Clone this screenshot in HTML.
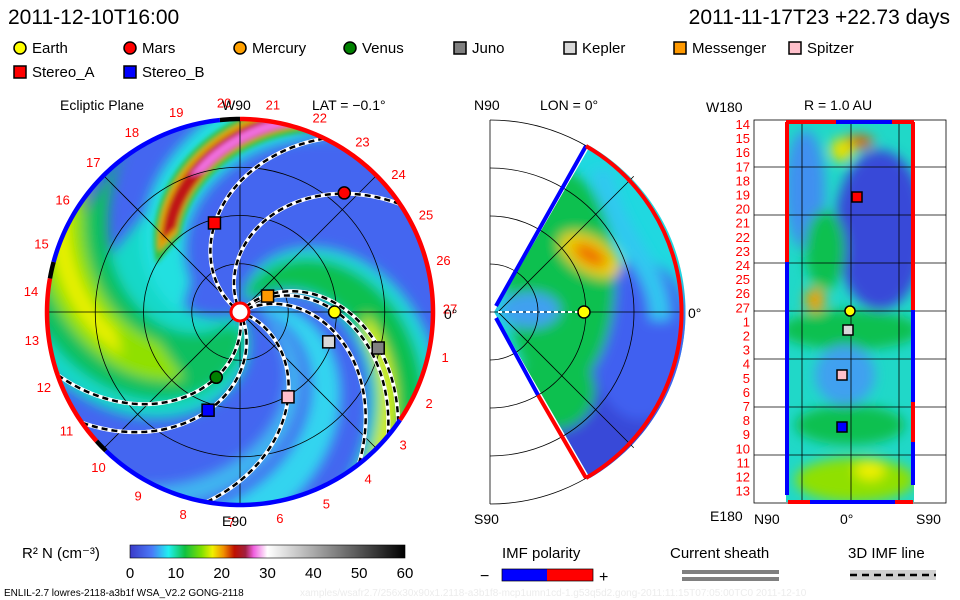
<!DOCTYPE html>
<html><head><meta charset="utf-8">
<style>
html,body{margin:0;padding:0;background:#fff;}
svg{display:block;font-family:"Liberation Sans",sans-serif;}
.t{fill:#000;}
</style></head>
<body>
<svg id="chart" width="960" height="600" viewBox="0 0 960 600" xmlns="http://www.w3.org/2000/svg">
<defs>
 <filter id="blur6" x="-20%" y="-20%" width="140%" height="140%"><feGaussianBlur stdDeviation="6"/></filter>
 <filter id="blur3" x="-20%" y="-20%" width="140%" height="140%"><feGaussianBlur stdDeviation="2.5"/></filter>
 <clipPath id="mainClip"><circle cx="240" cy="312" r="193"/></clipPath>
 <clipPath id="wedgeClip"><path d="M494,312 L590,146 A192,192 0 0 1 590,478 Z"/></clipPath>
 <clipPath id="rectClip"><rect x="786" y="122" width="128" height="380"/></clipPath>
 <linearGradient id="cbar" x1="0" x2="1" y1="0" y2="0">
  <stop offset="0" stop-color="#3a3ac8"/><stop offset="0.08" stop-color="#4a7af8"/>
  <stop offset="0.14" stop-color="#20f0f0"/><stop offset="0.2" stop-color="#10c040"/>
  <stop offset="0.26" stop-color="#80e000"/><stop offset="0.3" stop-color="#f0f000"/>
  <stop offset="0.34" stop-color="#f09000"/><stop offset="0.38" stop-color="#c01000"/>
  <stop offset="0.42" stop-color="#a02040"/><stop offset="0.45" stop-color="#f060e0"/>
  <stop offset="0.5" stop-color="#ffffff"/><stop offset="1" stop-color="#000000"/>
 </linearGradient>
</defs>

<text x="8" y="24" font-size="21" class="t">2011-12-10T16:00</text>
<text x="950" y="24" font-size="21" text-anchor="end" class="t">2011-11-17T23 +22.73 days</text>
<g id="legend"></g>

<text x="60" y="110" font-size="14" class="t">Ecliptic Plane</text>
<text x="312" y="110" font-size="14" class="t">LAT = −0.1°</text>
<text x="474" y="110" font-size="14" class="t">N90</text>
<text x="540" y="110" font-size="14" class="t">LON = 0°</text>
<text x="804" y="110" font-size="14" class="t">R = 1.0 AU</text>

<g id="main"></g>
<g id="mid"></g>
<g id="right"></g>

<g>
 <text x="22" y="558" font-size="15" class="t">R² N (cm⁻³)</text>
 <rect x="130" y="545" width="275" height="13" fill="url(#cbar)" stroke="#000" stroke-width="0.6"/>
 <g id="cbticks"></g>
</g>
<g>
 <text x="502" y="558" font-size="15" class="t">IMF polarity</text>
 <text x="480" y="581" font-size="16" class="t">−</text>
 <rect x="502" y="569" width="45" height="12" fill="#00f"/>
 <rect x="547" y="569" width="46" height="12" fill="#f00"/>
 <rect x="502" y="569" width="91" height="12" fill="none" stroke="#000" stroke-width="0.7"/>
 <text x="599" y="582" font-size="16" class="t">+</text>
</g>
<g>
 <text x="670" y="558" font-size="15" class="t">Current sheath</text>
 <rect x="682" y="570" width="97" height="4" fill="#808080"/>
 <rect x="682" y="577" width="97" height="4" fill="#808080"/>
</g>
<g>
 <text x="848" y="558" font-size="15" class="t">3D IMF line</text>
 <rect x="850" y="570" width="86" height="10" fill="#d0d0d0"/>
 <line x1="850" y1="575" x2="936" y2="575" stroke="#000" stroke-width="2.5" stroke-dasharray="7,5"/>
</g>
<text x="4" y="596" font-size="10" class="t">ENLIL-2.7 lowres-2118-a3b1f WSA_V2.2 GONG-2118</text>
<text x="300" y="596" font-size="10" fill="#ececec">xamples/wsafr2.7/256x30x90x1.2118-a3b1f8-mcp1umn1cd-1.g53q5d2.gong-2011:11:15T07:05:00TC0    2011-12-10</text>
</svg>
<script>
const NS="http://www.w3.org/2000/svg";
function mk(tag,attrs,parent){const e=document.createElementNS(NS,tag);for(const k in attrs)e.setAttribute(k,attrs[k]);if(parent)parent.appendChild(e);return e;}

// ---- data ----
const legendNames=["Earth","Mars","Mercury","Venus","Juno","Kepler","Messenger","Spitzer","Stereo_A","Stereo_B"];
const legendColors=["#ffff00","#ff0000","#ffa000","#008000","#808080","#d8d8d8","#ff9900","#ffc0cb","#ff0000","#0000ff"];
const legendShapes=["c","c","c","c","s","s","s","s","s","s"];
const bodyR=[0.98,1.64,0.31,0.72,1.48,0.97,0.33,1.01,0.96,1.07];   // AU
const bodyLon=[0,48.8,28,-110,-14.6,-18.6,30,-60.5,106,-108];      // deg
const cbTicks=[0,10,20,30,40,50,60];
const carrLabels=[1,2,3,4,5,6,7,8,9,10,11,12,13,14,15,16,17,18,19,20,21,22,23,24,25,26,27];
const rowLabels=[14,15,16,17,18,19,20,21,22,23,24,25,26,27,1,2,3,4,5,6,7,8,9,10,11,12,13];
const imfLinesTheta0=[144,114,40,45,28,-20,-81,-65];  // spiral footpoint longitudes (deg)

// ---- legend ----
const lg=document.getElementById('legend');
const lgX=[20,130,240,350,460,570,680,795,20,130];
const lgY=[48,48,48,48,48,48,48,48,72,72];
legendNames.forEach((n,i)=>{
 const g=mk('g',{},lg);
 
 
 if(legendShapes[i]==='c')mk('circle',{cx:lgX[i],cy:lgY[i],r:6,fill:legendColors[i],stroke:'#000','stroke-width':1.5},g);
 else mk('rect',{x:lgX[i]-6,y:lgY[i]-6,width:12,height:12,fill:legendColors[i],stroke:'#000','stroke-width':1.5},g);
 const t=mk('text',{x:lgX[i]+12,y:lgY[i]+5,'font-size':15},g);t.textContent=n;
});

// ---- main ecliptic panel ----
const CX=240,CY=312,S=96.5,K=52,KL=40;
const xy=(r,th)=>[CX+r*S*Math.cos(th*Math.PI/180),CY-r*S*Math.sin(th*Math.PI/180)];
const main=document.getElementById('main');
const field=mk('g',{'clip-path':'url(#mainClip)'},main);
mk('circle',{cx:CX,cy:CY,r:193,fill:'#4466f0'},field);
const fb=mk('g',{filter:'url(#blur6)'},field);
const fc=mk('g',{filter:'url(#blur3)'},field);
function band(t0,w,r1,r2,col,k,parent,op){
 k=k||K;const a=[],b=[];
 for(let r=r1;r<=r2+1e-6;r+=0.05){const th=t0-k*r;a.push(xy(r,th-w/2));b.unshift(xy(r,th+w/2));}
 return mk('polygon',{points:a.concat(b).map(p=>p.join(',')).join(' '),fill:col,opacity:op||1},parent||fb);
}
band(255,100,0.1,2.2,'#18d8c8');
band(262,60,0.2,2.2,'#10c060');
band(262,30,0.9,2.2,'#90e000');
band(262,12,1.3,2.2,'#e8f000');
band(72,45,0.15,2.2,'#20d8d8');
band(70,30,0.2,2.2,'#10c050');
band(62,10,1.3,2.2,'#d8f000');
band(20,22,0.2,2.2,'#30e0f0',K,fb,0.9);
band(-5,14,0.3,2.2,'#40c8f0',K,fb,0.8);
// CME front
band(200,36,0.6,2.1,'#20e0e0',59,fb);
band(198,22,1.0,2.1,'#30c040',59,fc);
band(198,15,1.05,2.1,'#e0a000',59,fc);
band(197,10,1.1,2.1,'#c01818',59,fc);
band(196,6,1.5,2.1,'#f070e0',59,fc);
// grid
const grid=mk('g',{fill:'none',stroke:'#000','stroke-width':0.8},main);
[0.5,1,1.5].forEach(r=>mk('circle',{cx:CX,cy:CY,r:r*S},grid));
[0,45,90,135].forEach(a=>{const p=xy(2,a),q=xy(2,a+180);mk('line',{x1:p[0],y1:p[1],x2:q[0],y2:q[1]},grid);});
// IMF spiral lines
const lines=mk('g',{'clip-path':'url(#mainClip)',fill:'none'},main);
imfLinesTheta0.forEach(t0=>{
 const pts=[];for(let r=0.08;r<=2.1;r+=0.03)pts.push(xy(r,t0-KL*r).join(','));
 mk('polyline',{points:pts.join(' '),stroke:'#fff','stroke-width':4},lines);
 const l=mk('polyline',{points:pts.join(' '),stroke:'#000','stroke-width':2.5,'stroke-dasharray':'6,4'},lines);
 
 
});
// border polarity
const segs=[[-34,90,'#f00'],[90,96,'#000'],[96,165,'#00f'],[165,170,'#000'],[170,222,'#f00'],[222,226,'#000'],[226,326,'#00f']];
segs.forEach(s=>{const p=[];for(let a=s[0];a<=s[1];a+=1)p.push(xy(2.0,a).join(','));
 mk('polyline',{points:p.join(' '),fill:'none',stroke:s[2],'stroke-width':4.5},main);});
mk('circle',{cx:CX,cy:CY,r:9,fill:'#fff',stroke:'#f00','stroke-width':3},main);
carrLabels.forEach(n=>{
 const a=-12.4-(n-1)*13.33;const p=xy(210/S,a);
 const t=mk('text',{x:p[0],y:p[1]+5,'font-size':13,'text-anchor':'middle',fill:'#f00'},main);t.textContent=n;
 
 
});
let t=mk('text',{x:222,y:110,'font-size':14},main);t.textContent='W90';
t=mk('text',{x:222,y:526,'font-size':14},main);t.textContent='E90';
t=mk('text',{x:444,y:319,'font-size':14},main);t.textContent='0°';
legendNames.forEach((n,i)=>{
 if(n==='Mercury')return;
 const p=xy(bodyR[i],bodyLon[i]);
 let e;
 if(legendShapes[i]==='c')e=mk('circle',{cx:p[0],cy:p[1],r:6,fill:legendColors[i],stroke:'#000','stroke-width':1.5},main);
 else e=mk('rect',{x:p[0]-6,y:p[1]-6,width:12,height:12,fill:legendColors[i],stroke:'#000','stroke-width':1.5},main);
 
 
});

// ---- middle meridional panel ----
const MX=490,MY=312;
const mid=document.getElementById('mid');
const wf=mk('g',{'clip-path':'url(#wedgeClip)'},mid);
mk('rect',{x:490,y:140,width:200,height:345,fill:'#20d8e0'},wf);
const wb=mk('g',{filter:'url(#blur6)'},wf);
mk('ellipse',{cx:610,cy:440,rx:110,ry:90,fill:'#3848d8'},wb);
mk('ellipse',{cx:640,cy:340,rx:50,ry:80,fill:'#4060f0'},wb);
mk('ellipse',{cx:560,cy:280,rx:55,ry:110,fill:'#10c050'},wb);
mk('ellipse',{cx:555,cy:390,rx:40,ry:40,fill:'#10c050'},wb);
mk('ellipse',{cx:530,cy:310,rx:30,ry:18,fill:'#40a0f0'},wb);
mk('ellipse',{cx:590,cy:255,rx:34,ry:18,fill:'#e8d000',transform:'rotate(30 590 255)'},wb);
mk('ellipse',{cx:590,cy:255,rx:18,ry:9,fill:'#f07000',transform:'rotate(30 590 255)'},wb);
mk('path',{d:'M600,170 C620,250 660,265 660,320',stroke:'#30c8f0','stroke-width':20,fill:'none'},wb);
const mg=mk('g',{fill:'none',stroke:'#000','stroke-width':0.8},mid);
[48,96,144,192].forEach(r=>mk('path',{d:`M${MX},${MY-r} A${r},${r} 0 0 1 ${MX},${MY+r}`},mg));
mk('line',{x1:MX,y1:MY-192,x2:MX,y2:MY+192},mg);
mk('line',{x1:MX,y1:MY,x2:MX+192,y2:MY},mg);
[45,-45].forEach(a=>mk('line',{x1:MX+8,y1:MY,x2:MX+192*Math.cos(a*Math.PI/180)+8,y2:MY-192*Math.sin(a*Math.PI/180)},mg));
mk('path',{d:'M496,306 L586,146',stroke:'#00f','stroke-width':4,fill:'none'},mid);
mk('path',{d:'M496,318 L538,395',stroke:'#00f','stroke-width':4,fill:'none'},mid);
mk('path',{d:'M538,395 L586,478',stroke:'#f00','stroke-width':4,fill:'none'},mid);
mk('path',{d:'M586,146 A192,192 0 0 1 586,478',stroke:'#f00','stroke-width':4,fill:'none'},mid);
mk('line',{x1:498,y1:312,x2:582,y2:312,stroke:'#fff','stroke-width':2,'stroke-dasharray':'4,3'},mid);
let me=mk('circle',{cx:584,cy:312,r:6,fill:'#ff0',stroke:'#000','stroke-width':1.5},mid);


t=mk('text',{x:474,y:524,'font-size':14},mid);t.textContent='S90';
t=mk('text',{x:688,y:318,'font-size':14},mid);t.textContent='0°';

// ---- right panel ----
const rp=document.getElementById('right');
const rf=mk('g',{'clip-path':'url(#rectClip)'},rp);
mk('rect',{x:786,y:122,width:128,height:380,fill:'#20d8c8'},rf);
const rb=mk('g',{filter:'url(#blur6)'},rf);
mk('ellipse',{cx:880,cy:230,rx:45,ry:80,fill:'#3848d8'},rb);
mk('ellipse',{cx:805,cy:190,rx:20,ry:60,fill:'#4090f0'},rb);
mk('ellipse',{cx:825,cy:250,rx:20,ry:40,fill:'#10c050'},rb);
mk('ellipse',{cx:850,cy:330,rx:70,ry:20,fill:'#10c050'},rb);
mk('ellipse',{cx:815,cy:300,rx:10,ry:12,fill:'#f0a000'},rb);
mk('ellipse',{cx:845,cy:375,rx:30,ry:30,fill:'#40a0f0'},rb);
mk('ellipse',{cx:850,cy:425,rx:55,ry:20,fill:'#10c050'},rb);
mk('ellipse',{cx:855,cy:480,rx:60,ry:22,fill:'#90e000'},rb);
mk('ellipse',{cx:870,cy:470,rx:15,ry:10,fill:'#f0f000'},rb);
mk('ellipse',{cx:858,cy:142,rx:16,ry:7,fill:'#e06000'},rb);
mk('ellipse',{cx:842,cy:150,rx:12,ry:12,fill:'#e8e000'},rb);
const rg=mk('g',{stroke:'#000','stroke-width':0.8,fill:'none'},rp);
mk('rect',{x:754,y:120,width:192,height:383},rg);
[802,851,899].forEach(x=>mk('line',{x1:x,y1:120,x2:x,y2:503},rg));
[167,215,263,311,359,407,455].forEach(y=>mk('line',{x1:754,y1:y,x2:946,y2:y},rg));
[['M786,122 L836,122','#f00'],['M836,122 L892,122','#00f'],['M892,122 L914,122','#f00'],
 ['M787,122 L787,262','#f00'],['M787,262 L787,495','#00f'],['M913,122 L913,310','#f00'],
 ['M913,310 L913,402','#00f'],['M913,402 L913,442','#f00'],['M913,442 L913,485','#00f'],
 ['M788,502 L810,502','#f00'],['M810,502 L895,502','#00f'],['M895,502 L913,502','#f00']]
 .forEach(s=>mk('path',{d:s[0],stroke:s[1],'stroke-width':4},rp));
rowLabels.forEach((n,i)=>{
 const t=mk('text',{x:750,y:129+i*14.1,'font-size':13,'text-anchor':'end',fill:'#f00'},rp);t.textContent=n;
 
 
});
t=mk('text',{x:706,y:112,'font-size':14},rp);t.textContent='W180';
t=mk('text',{x:710,y:521,'font-size':14},rp);t.textContent='E180';
t=mk('text',{x:754,y:524,'font-size':14},rp);t.textContent='N90';
t=mk('text',{x:840,y:524,'font-size':14},rp);t.textContent='0°';
t=mk('text',{x:916,y:524,'font-size':14},rp);t.textContent='S90';
[[857,197,'#f00'],[848,330,'#d8d8d8'],[842,375,'#ffc0cb'],[842,427,'#00f']]
 .forEach(b=>mk('rect',{x:b[0]-5,y:b[1]-5,width:10,height:10,fill:b[2],stroke:'#000','stroke-width':1.5},rp));
mk('circle',{cx:850,cy:311,r:5,fill:'#ff0',stroke:'#000','stroke-width':1.5},rp);

// ---- colorbar ticks ----
const cbt=document.getElementById('cbticks');
cbTicks.forEach(v=>{
 const x=130+v/60*275;
 const t=mk('text',{x:x,y:578,'font-size':15,'text-anchor':'middle'},cbt);t.textContent=v;
 
 
});
</script>
</body></html>
